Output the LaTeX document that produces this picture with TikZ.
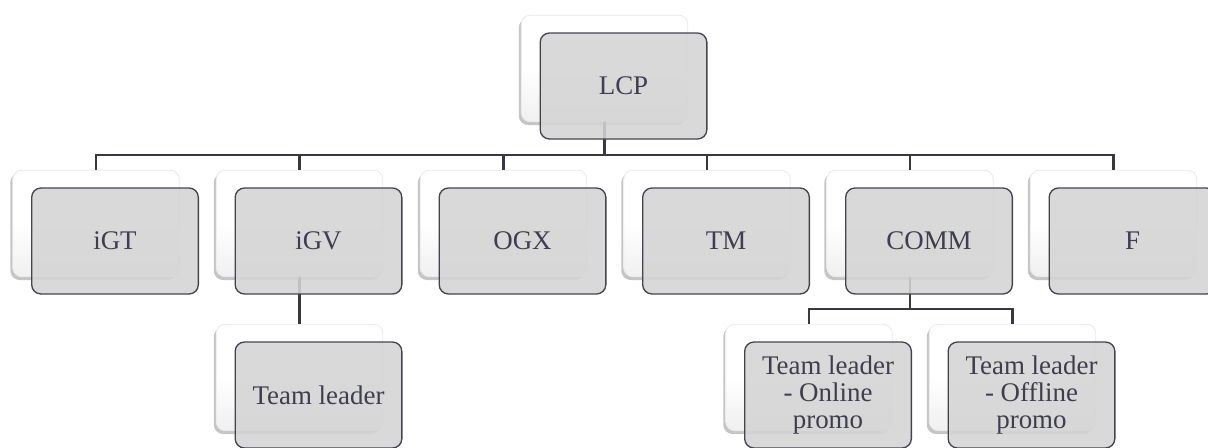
\documentclass[tikz,border=0pt]{standalone}
\usepackage{fontspec}
\setmainfont{Liberation Serif}
\usetikzlibrary{shadows}
\definecolor{boxgray}{RGB}{212,212,212}
\definecolor{edgec}{RGB}{68,68,78}
\definecolor{txtc}{RGB}{62,62,76}
\definecolor{linec}{RGB}{56,56,66}
\tikzset{
  backbox/.style={rectangle, rounded corners=7pt, minimum width=125pt, minimum height=80pt,
    inner sep=0pt, outer sep=0pt, draw=gray!18, line width=0.6pt,
    top color=white, bottom color=gray!12, middle color=white,
    drop shadow={shadow xshift=-1.8pt, shadow yshift=-2.4pt, opacity=0.45, fill=gray}},
  frontbox/.style={rectangle, rounded corners=7pt, minimum width=125pt, minimum height=79.5pt,
    inner sep=2pt, outer sep=0pt, draw=edgec, line width=1pt, fill=boxgray,
    fill opacity=0.88, text opacity=1, text=txtc,
    font=\fontsize{20.2}{20.2}\selectfont, align=center},
  conn/.style={draw=linec, line width=1.9pt}
}
\begin{document}
\begin{tikzpicture}[x=0.75pt,y=-0.75pt]
\fill[white] (0,0) rectangle (1208,447);
\useasboundingbox (0,0) rectangle (1208,447);
% back (white) boxes
\node[backbox] (lcpb)  at (604.5,68.5) {};
\node[backbox] (igtb)  at (96,223.5) {};
\node[backbox] (igvb)  at (299.5,223.5) {};
\node[backbox] (ogxb)  at (503.5,223.5) {};
\node[backbox] (tmb)   at (707,223.5) {};
\node[backbox] (commb) at (910,223.5) {};
\node[backbox] (fb)    at (1113.5,223.5) {};
\node[backbox] (tlb)   at (299.5,377.5) {};
\node[backbox] (onb)   at (809,377.5) {};
\node[backbox] (offb)  at (1012.5,377.5) {};
% connectors
\coordinate (bus1) at (604.5,155);
\coordinate (bus2) at (910,309);
\draw[conn] (lcpb.south) -- (bus1) -| (igtb.north);
\draw[conn] (bus1) -| (igvb.north);
\draw[conn] (bus1) -| (ogxb.north);
\draw[conn] (bus1) -| (tmb.north);
\draw[conn] (bus1) -| (commb.north);
\draw[conn] (bus1) -| (fb.north);
\draw[conn] (igvb.south) -- (tlb.north);
\draw[conn] (commb.south) -- (bus2) -| (onb.north);
\draw[conn] (bus2) -| (offb.north);
% front (gray) boxes
\node[frontbox] (lcp)  at (623.5,86) {LCP};
\node[frontbox] (igt)  at (115,241) {iGT};
\node[frontbox] (igv)  at (318.5,241) {iGV};
\node[frontbox] (ogx)  at (522.5,241) {OGX};
\node[frontbox] (tm)   at (726,241) {TM};
\node[frontbox] (comm) at (929,241) {COMM};
\node[frontbox] (f)    at (1132.5,241) {F};
\node[frontbox] (tl)   at (318.5,395) {Team leader};
\node[frontbox] (on)   at (828,395) {\raisebox{-3pt}{\parbox{110pt}{\centering Team leader\\- Online\\promo}}};
\node[frontbox] (off)  at (1031.5,395) {\raisebox{-3pt}{\parbox{110pt}{\centering Team leader\\- Offline\\promo}}};
\end{tikzpicture}
\end{document}
